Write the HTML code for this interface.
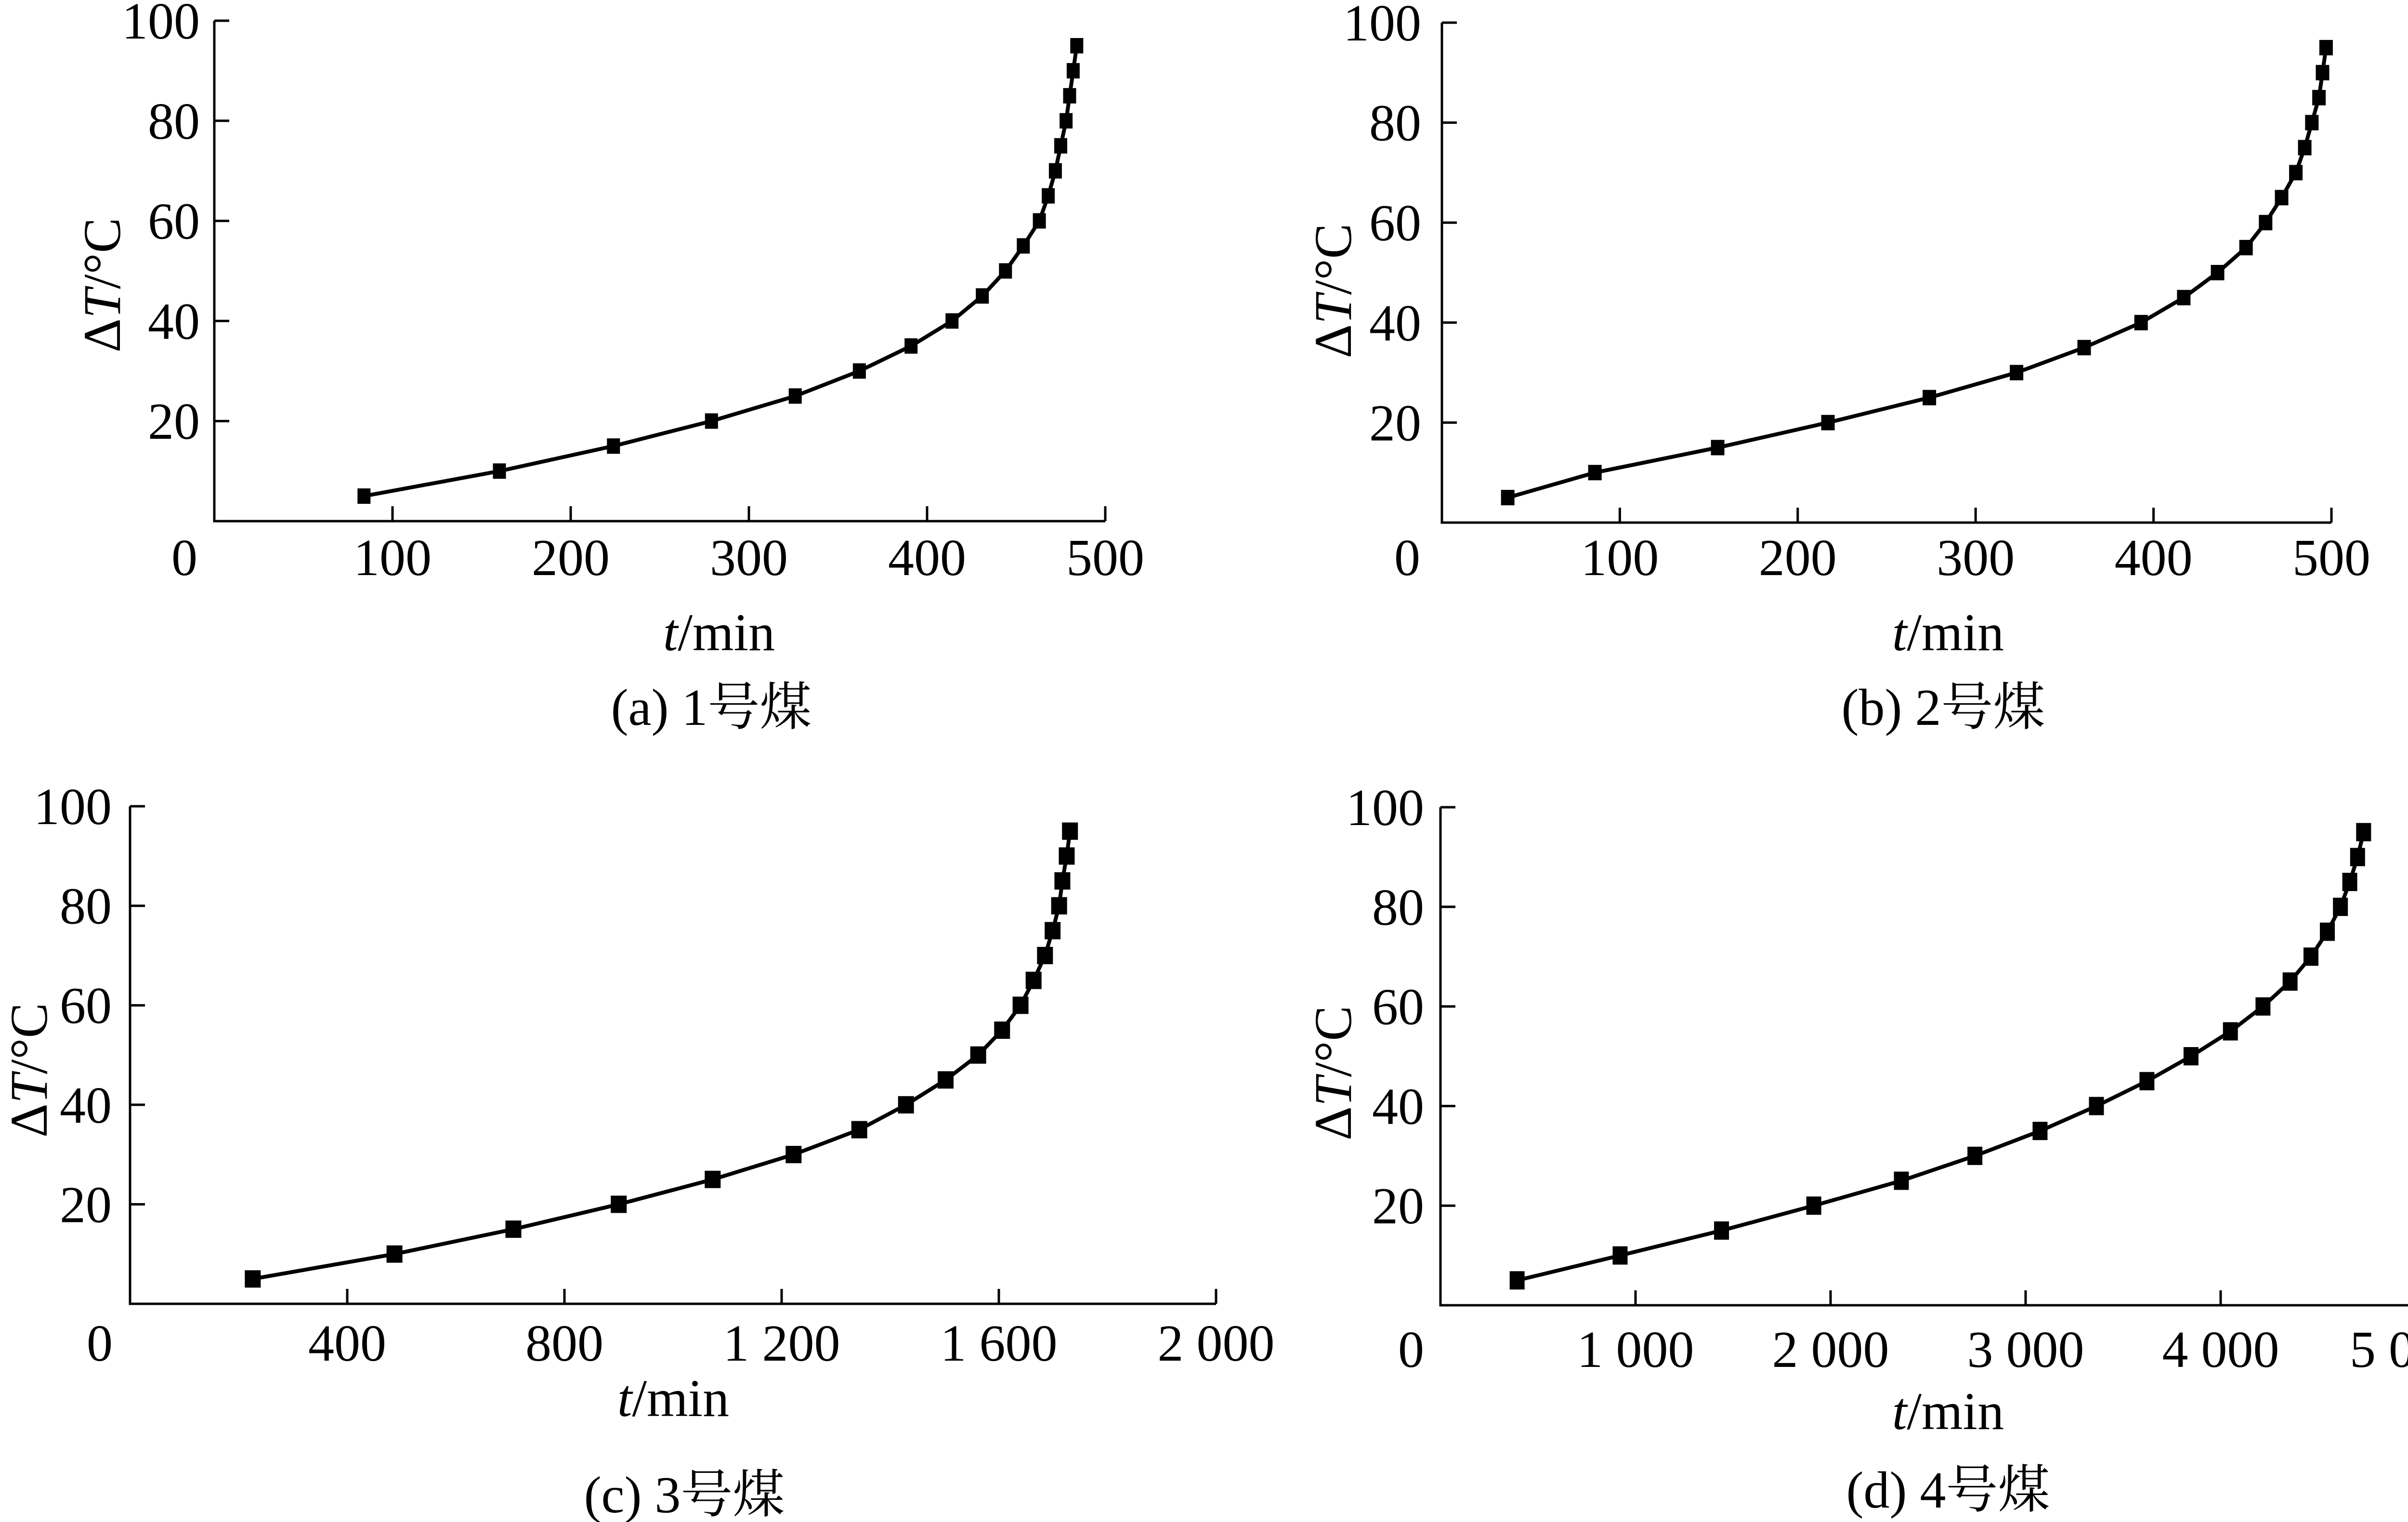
<!DOCTYPE html>
<html><head><meta charset="utf-8"><style>
html,body{margin:0;padding:0;background:#fff;}
svg{display:block;}
text{font-family:"Liberation Serif","Noto Serif CJK SC",serif;fill:#000;}
</style></head><body>
<svg id="fig" width="5122" height="3160" viewBox="0 0 5122 3160"></svg>
<script>
const yValues=[5,10,15,20,25,30,35,40,45,50,55,60,65,70,75,80,85,90,95];
const coal1Times=[84,160,224,279,326,362,391,414,431,444,454,463,468,472,475,478,480,482,484];
const coal2Times=[37,86,155,217,274,323,361,393,417,436,452,463,472,480,485,489,493,495,497];
const coal3Times=[226,487,706,900,1073,1222,1343,1429,1502,1562,1606,1640,1664,1685,1699,1711,1717,1725,1731];
const coal4Times=[393,921,1441,1914,2363,2740,3074,3363,3622,3848,4050,4217,4356,4463,4547,4614,4662,4702,4733];
const xTicks1=[100,200,300,400,500];
const xTicks3=[400,800,1200,1600,2000];
const xTicks4=[1000,2000,3000,4000,5000];
const xTickLabels1=["100","200","300","400","500"];
const xTickLabels3=["400","800","1 200","1 600","2 000"];
const xTickLabels4=["1 000","2 000","3 000","4 000","5 000"];
const yTicks=[20,40,60,80,100];
const captions=["(a) 1号煤","(b) 2号煤","(c) 3号煤","(d) 4号煤"];

const NS="http://www.w3.org/2000/svg";
const svg=document.getElementById('fig');
function mk(tag,attrs,parent){const e=document.createElementNS(NS,tag);for(const k in attrs)e.setAttribute(k,attrs[k]);(parent||svg).appendChild(e);return e;}

function panel(p){
  const g=mk('g',{});
  
  
  const xs=v=>p.x0+(v-0)/p.xmax*(p.x1-p.x0);
  const ys=v=>p.y0-(v/100)*(p.y0-p.y100);
  const ax=mk('path',{d:`M${p.x0},${p.y100} L${p.x0},${p.y0} L${p.x1},${p.y0}`,fill:'none',stroke:'#000','stroke-width':5},g);
  
  
  yTicks.forEach(v=>{
    const t=mk('line',{x1:p.x0,x2:p.x0+31,y1:ys(v),y2:ys(v),stroke:'#000','stroke-width':5},g);
    
    
    const l=mk('text',{x:p.ylabR,y:ys(v)+37,'font-size':108,'text-anchor':'end'},g);
    l.textContent=String(v);
    
    
  });
  p.xt.forEach((v,i)=>{
    const t=mk('line',{x1:xs(v),x2:xs(v),y1:p.y0,y2:p.y0-31,stroke:'#000','stroke-width':5},g);
    
    
    const last=(i===p.xt.length-1)&&p.lastStart;
    const l=mk('text',{x:last?p.lastStart:xs(v),y:p.xlabY,'font-size':108,'text-anchor':last?'start':'middle'},g);
    l.textContent=p.xl[i];
    
    
  });
  const z=mk('text',{x:p.zeroX,y:p.xlabY,'font-size':108,'text-anchor':'middle'},g);
  z.textContent='0';
  
  
  const pts=p.data.map((v,i)=>xs(v).toFixed(1)+','+ys(yValues[i]).toFixed(1)).join(' ');
  const ln=mk('polyline',{points:pts,fill:'none',stroke:'#000','stroke-width':8,'stroke-linejoin':'round'},g);
  
  
  p.data.forEach((v,i)=>{
    const r=mk('rect',{x:xs(v)-p.mw/2,y:ys(yValues[i])-p.mh/2,width:p.mw,height:p.mh,fill:'#000'},g);
    
    
  });
  const xt=mk('text',{x:p.xtX,y:p.xtY,'font-size':110,'text-anchor':'middle'},g);
  xt.innerHTML='<tspan font-style="italic">t</tspan>/min';
  
  
  const yt=mk('text',{x:0,y:0,'font-size':110,'text-anchor':'middle',transform:`translate(${p.ytX+38},${p.ytY}) rotate(-90)`},g);
  yt.innerHTML='Δ<tspan font-style="italic">T</tspan>/°C';
  
  
  const c=mk('text',{x:p.capX,y:p.capY,'font-size':108,'text-anchor':'middle'},g);
  c.textContent=p.cap;
  
  
}

panel({id:'a',x0:445,x1:2295,xmax:500,y0:1082,y100:43,data:coal1Times,xt:xTicks1,xl:xTickLabels1,ylabR:415,xlabY:1194,zeroX:383,mw:27,mh:32,xtX:1493,xtY:1350,ytX:211,ytY:592,capX:1477,capY:1505,cap:captions[0]});
panel({id:'b',x0:2994,x1:4841,xmax:500,y0:1085,y100:47,data:coal2Times,xt:xTicks1,xl:xTickLabels1,ylabR:2951,xlabY:1194,zeroX:2922,mw:28,mh:32,xtX:4045,xtY:1350,ytX:2767,ytY:604,capX:4035,capY:1505,cap:captions[1]});
panel({id:'c',x0:270,x1:2525,xmax:2000,y0:2707,y100:1674,data:coal3Times,xt:xTicks3,xl:xTickLabels3,ylabR:232,xlabY:2825,zeroX:207,mw:33,mh:36,xtX:1398,xtY:2940,ytX:59,ytY:2222,capX:1421,capY:3140,cap:captions[2]});
panel({id:'d',x0:2991,x1:5016,xmax:5000,y0:2710,y100:1676,data:coal4Times,xt:xTicks4,xl:xTickLabels4,ylabR:2957,xlabY:2838,zeroX:2930,mw:31,mh:38,xtX:4045,xtY:2967,ytX:2767,ytY:2228,capX:4045,capY:3130,cap:captions[3],lastStart:4879});
</script>
</body></html>
